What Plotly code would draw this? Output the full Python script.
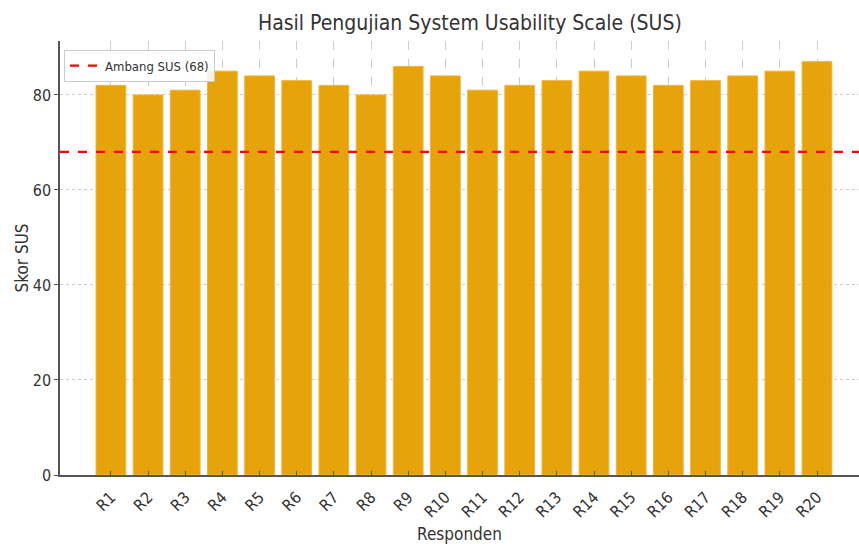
import plotly.graph_objects as go

responden = ["R1", "R2", "R3", "R4", "R5", "R6", "R7", "R8", "R9", "R10",
             "R11", "R12", "R13", "R14", "R15", "R16", "R17", "R18", "R19", "R20"]
skor_sus = [82, 80, 81, 85, 84, 83, 82, 80, 86, 84,
            81, 82, 83, 85, 84, 82, 83, 84, 85, 87]
ambang = 68
ambang_label = "Ambang SUS (68)"
y_ticks = [0, 20, 40, 60, 80]

font_family = "DejaVu Sans Condensed, DejaVu Sans"
text_color = "#333333"

fig = go.Figure()
fig.add_trace(go.Bar(
    x=responden, y=skor_sus, width=0.8,
    marker=dict(color="#E69F00", opacity=0.95, line=dict(color="#F0B030", width=1)),
    showlegend=False,
))
fig.add_hline(y=ambang, line=dict(color="red", dash="dash", width=2.2), layer="above")
fig.add_trace(go.Scatter(
    x=[None], y=[None], mode="lines", name=ambang_label,
    line=dict(color="red", dash="dash", width=2.2),
))

fig.update_layout(
    width=859, height=544,
    margin=dict(l=60, r=0, t=41, b=69, autoexpand=False),
    paper_bgcolor="white", plot_bgcolor="white",
    font=dict(family=font_family, color=text_color),
    title=dict(text="Hasil Pengujian System Usability Scale (SUS)",
               x=0.547, xanchor="center", y=0.958, yanchor="middle",
               font=dict(size=21, color=text_color)),
    showlegend=True,
    legend=dict(x=0.005, y=0.98, xanchor="left", yanchor="top",
                bgcolor="rgba(255,255,255,0.85)", bordercolor="#cccccc", borderwidth=1,
                itemwidth=30, font=dict(size=13, color=text_color)),
)
fig.update_xaxes(
    range=[-1.37, 20.13], automargin=False,
    tickangle=-45, tickfont=dict(size=16, color=text_color), ticklabelstandoff=5,
    showline=True, linecolor="#555555", linewidth=1.5,
    ticks="inside", ticklen=4, tickcolor="#555555",
    showgrid=True, gridcolor="#cccccc", griddash="dash", gridwidth=1,
    title=dict(text="Responden", font=dict(size=17, color=text_color), standoff=8),
)
fig.update_yaxes(
    range=[0, 91.35], automargin=False,
    tickvals=y_ticks, tickfont=dict(size=16, color=text_color),
    showline=True, linecolor="#555555", linewidth=1.5,
    ticks="outside", ticklen=4, tickcolor="#555555",
    showgrid=True, gridcolor="#cccccc", griddash="dot", gridwidth=1,
    zeroline=False,
    title=dict(text="Skor SUS", font=dict(size=17, color=text_color), standoff=0),
)

fig.write_html("out.html", config={"displayModeBar": False},
               post_script="document.body.style.margin='0';document.body.style.overflow='hidden';")
